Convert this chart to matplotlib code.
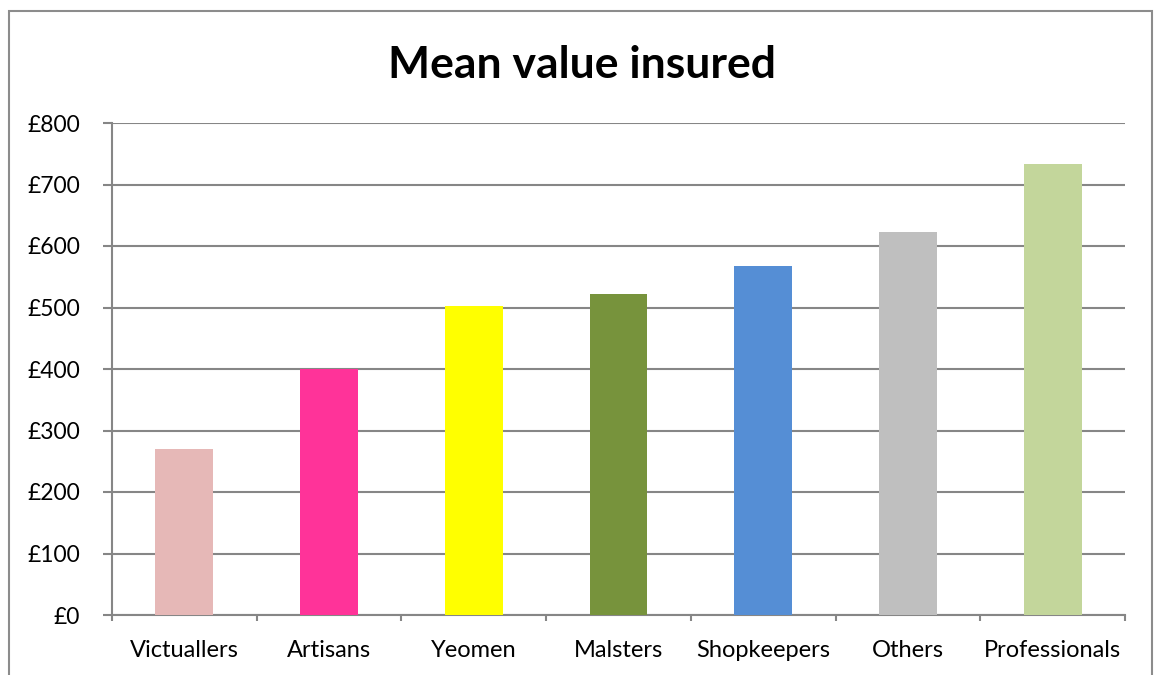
import matplotlib
matplotlib.use("Agg")
import matplotlib.pyplot as plt
from matplotlib.patches import Rectangle
from matplotlib.ticker import FuncFormatter, FixedLocator

categories = ["Victuallers", "Artisans", "Yeomen", "Malsters", "Shopkeepers", "Others", "Professionals"]
values = [270, 400, 502, 522, 568, 623, 733]
colors = ["#E6B8B7", "#FF3399", "#FFFF00", "#77933C", "#558ED5", "#BFBFBF", "#C3D69B"]
yticks = [0, 100, 200, 300, 400, 500, 600, 700, 800]

W, H = 1154, 675
fig = plt.figure(figsize=(W / 100, H / 100), dpi=100)
plt.rcParams['font.family'] = ['Lato', 'DejaVu Sans']

ax = fig.add_axes([112 / W, 1 - 615 / H, (1125 - 112) / W, (615 - 123) / H])
x = list(range(len(categories)))
ax.bar(x, values, width=0.4, color=colors, zorder=3)
ax.set_xlim(-0.5, len(categories) - 0.5)
ax.set_ylim(0, 800)

grid_c = "#868686"
ax.set_yticks(yticks)
ax.yaxis.set_major_formatter(FuncFormatter(lambda v, p: "£%d" % v))
ax.yaxis.grid(True, color=grid_c, linewidth=1.5, zorder=1)
ax.set_xticks(x)
ax.set_xticklabels(categories)
ax.xaxis.set_minor_locator(FixedLocator([i - 0.5 for i in range(len(categories) + 1)]))
ax.tick_params(axis='x', which='major', length=0, pad=18, labelsize=17)
ax.tick_params(axis='x', which='minor', length=4.5, width=1.5, color=grid_c)
ax.tick_params(axis='y', which='major', length=6.5, width=1.5, color=grid_c, pad=16.5, labelsize=16.5)

for s in ["top", "right"]:
    ax.spines[s].set_visible(False)
for s in ["left", "bottom"]:
    ax.spines[s].set_color(grid_c)
    ax.spines[s].set_linewidth(1.5)

fig.text(582 / W, 1 - 65 / H, "Mean value insured", ha="center", va="center",
         fontsize=32, fontweight="bold")

frame = Rectangle((9 / W, -0.05), (1152 - 9) / W, 1.05 - 11 / H, transform=fig.transFigure,
                  fill=False, edgecolor="#8C8C8C", linewidth=1.5)
fig.patches.append(frame)

fig.savefig("out.png", dpi=100)
